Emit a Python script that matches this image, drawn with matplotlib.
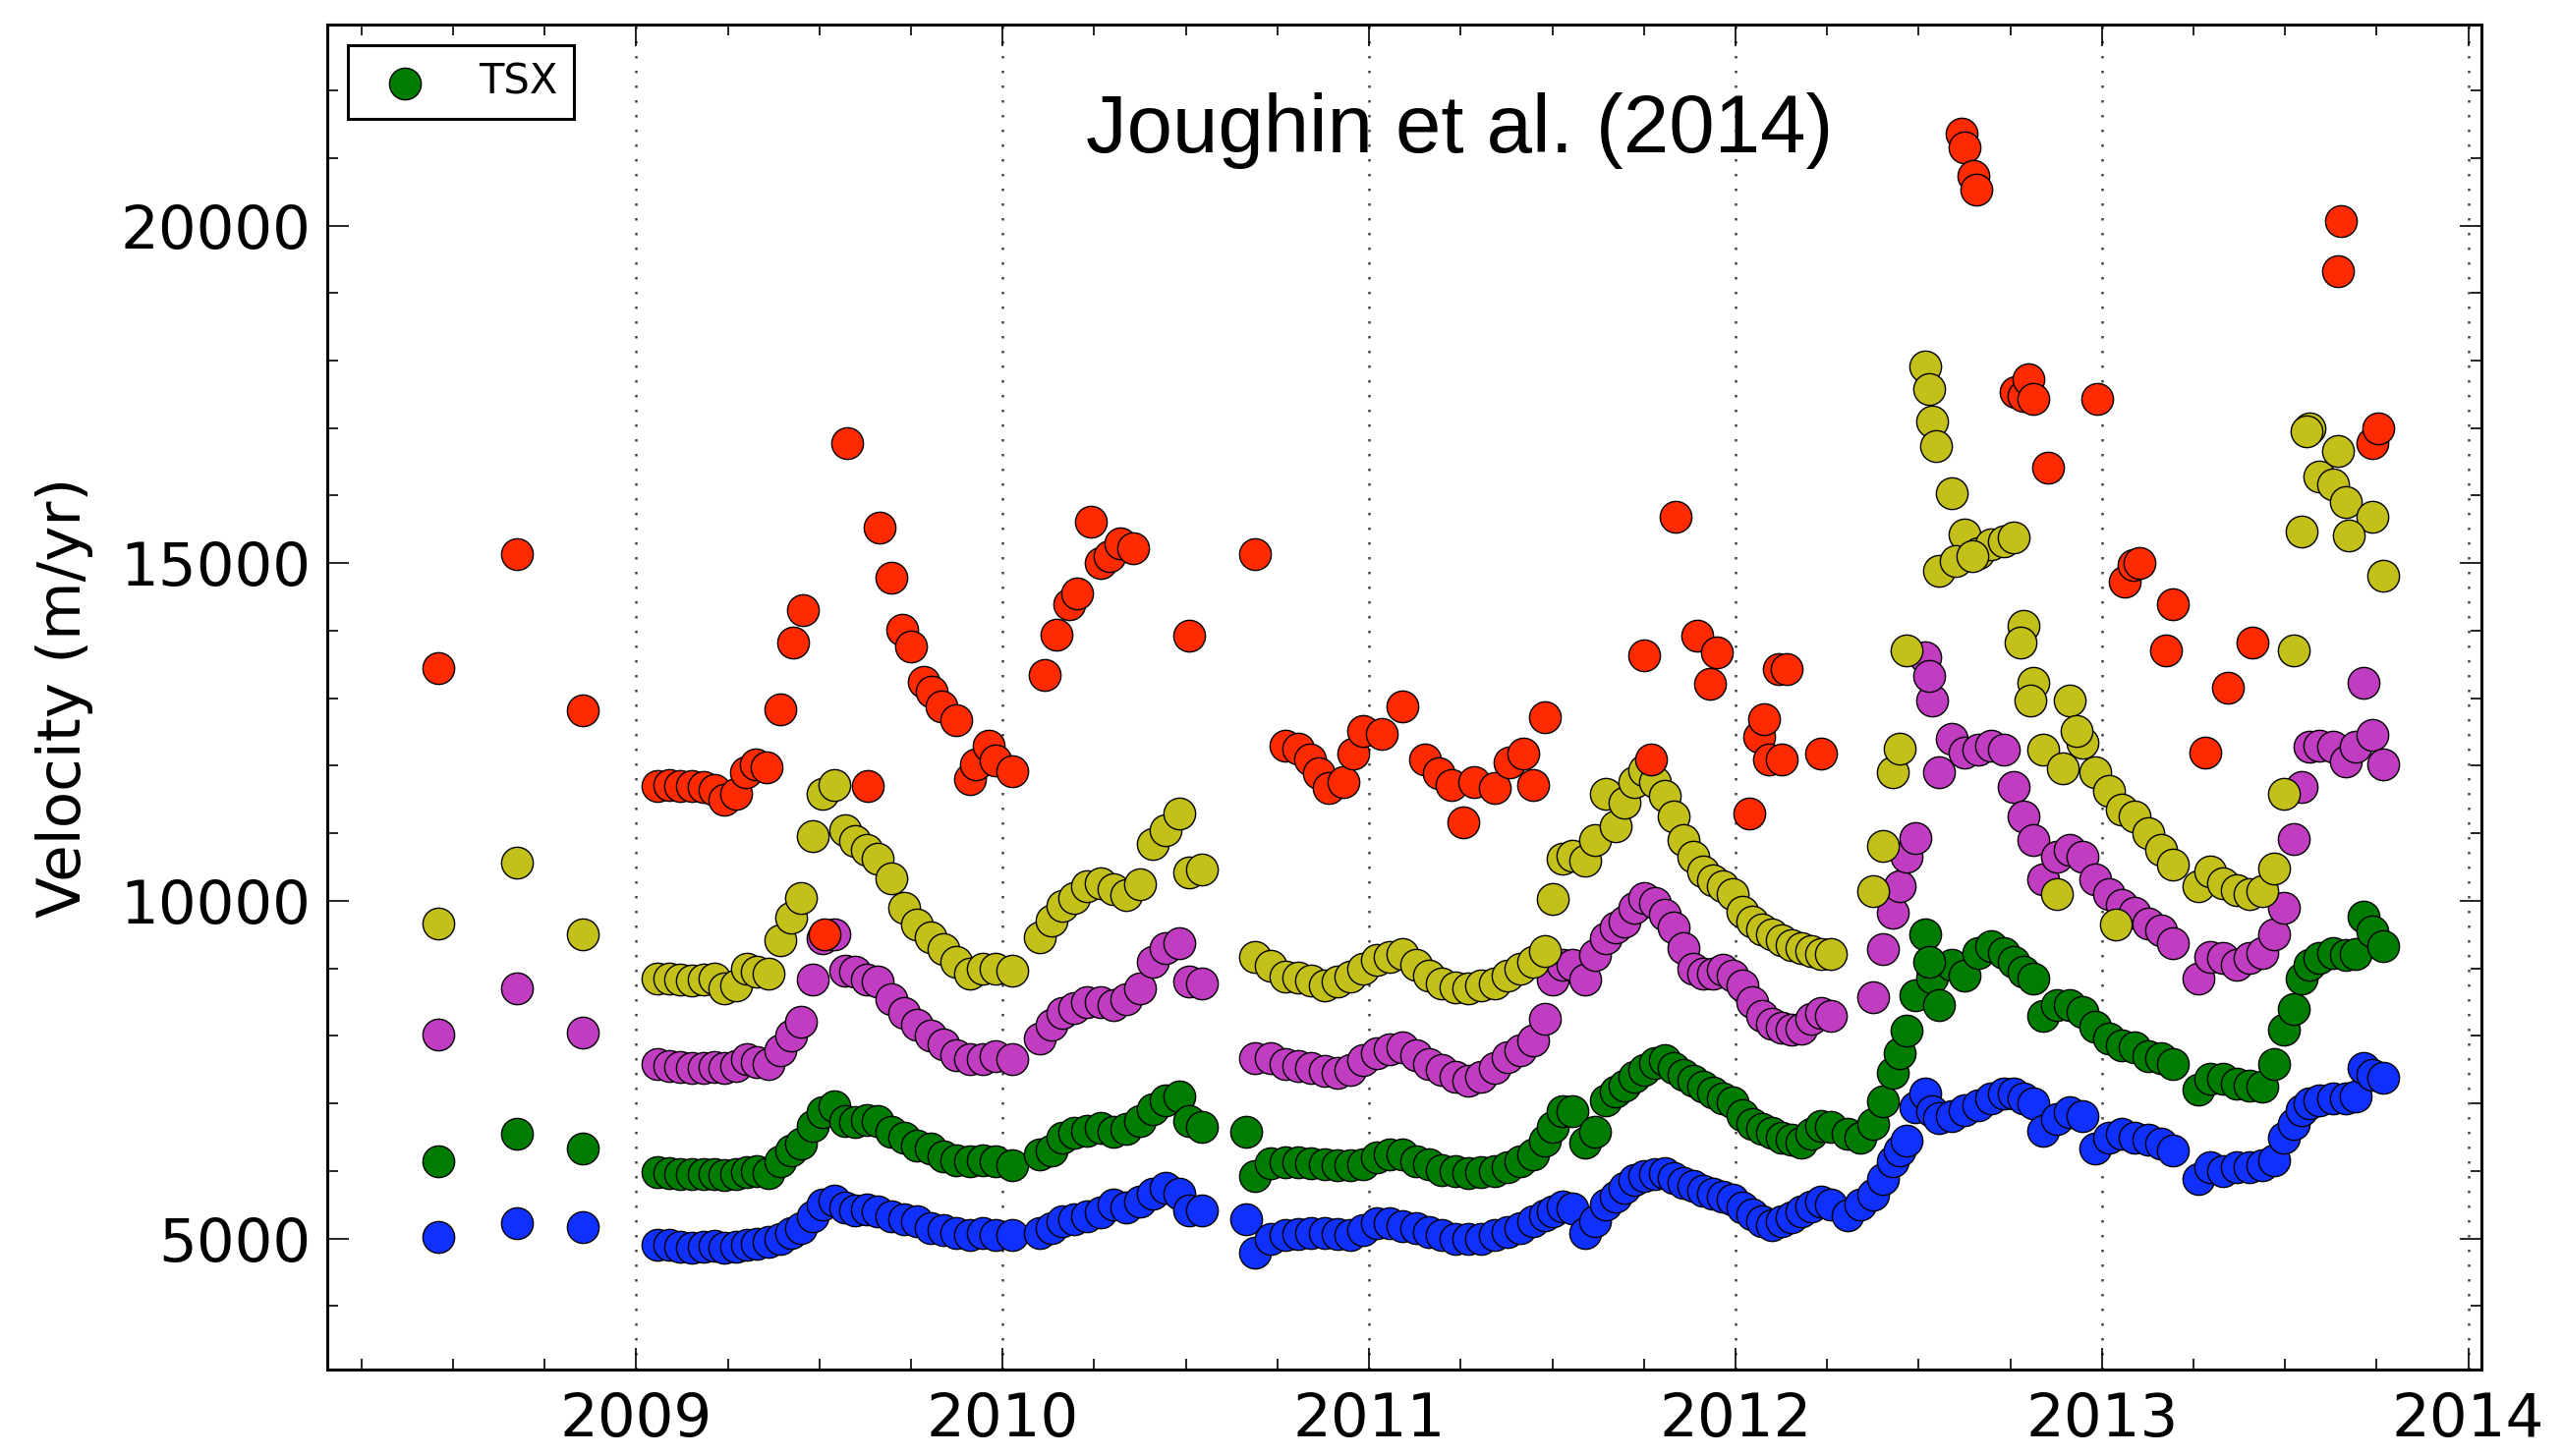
import numpy as np
import matplotlib
matplotlib.use("Agg")
import matplotlib.pyplot as plt
from matplotlib.ticker import MultipleLocator

nan = np.nan

# ----------------------------------------------------------
# TSX acquisition dates (decimal year) for the four lower gates
# ----------------------------------------------------------
t = [2008.460, 2008.674, 2008.853,
     # 2009 - early 2010
     2009.058, 2009.089, 2009.120, 2009.152, 2009.183, 2009.214, 2009.241, 2009.272, 2009.303, 2009.330,
     2009.361, 2009.393, 2009.424, 2009.450, 2009.482, 2009.508, 2009.540, 2009.571, 2009.598, 2009.629,
     2009.660, 2009.696, 2009.731, 2009.767, 2009.803, 2009.839, 2009.874, 2009.910, 2009.946, 2009.981,
     2010.026,
     # 2010
     2010.102, 2010.133, 2010.164, 2010.195, 2010.231, 2010.267, 2010.302, 2010.338, 2010.374, 2010.409,
     2010.445, 2010.481, 2010.508, 2010.543,
     # late 2010 - 2012
     2010.664, 2010.690, 2010.731, 2010.771, 2010.806, 2010.842, 2010.878, 2010.913, 2010.949, 2010.985,
     2011.020, 2011.056, 2011.092, 2011.128, 2011.163, 2011.199, 2011.235, 2011.270, 2011.306, 2011.342,
     2011.377, 2011.413, 2011.449, 2011.480, 2011.502, 2011.529, 2011.556, 2011.591, 2011.618, 2011.645,
     2011.672, 2011.698, 2011.725, 2011.752, 2011.779, 2011.806, 2011.832, 2011.859, 2011.886, 2011.913,
     2011.939, 2011.966, 2011.993, 2012.020, 2012.046, 2012.073, 2012.100, 2012.127, 2012.153, 2012.180,
     2012.207, 2012.234, 2012.260,
     # 2012 - 2013
     2012.305, 2012.341, 2012.376, 2012.403, 2012.430, 2012.448, 2012.466, 2012.492, 2012.519, 2012.537,
     2012.555, 2012.591, 2012.626, 2012.662, 2012.698, 2012.733, 2012.760, 2012.787, 2012.814, 2012.840,
     2012.876, 2012.912, 2012.947, 2012.983, 2013.019, 2013.054, 2013.090, 2013.126, 2013.161, 2013.193,
     2013.264, 2013.295, 2013.331, 2013.367, 2013.402, 2013.438, 2013.469, 2013.496, 2013.523, 2013.545,
     2013.567, 2013.594, 2013.630, 2013.665, 2013.692, 2013.715, 2013.737, 2013.768]

blue = [5020, 5220, 5170,
        4900, 4900, 4880, 4870, 4880, 4890, 4870, 4880, 4900, 4920,
        4950, 5000, 5080, 5150, 5330, 5500, 5560, 5460, 5420, 5430,
        5400, 5330, 5290, 5250, 5160, 5120, 5080, 5050, 5080, 5050,
        5050,
        5080, 5160, 5250, 5290, 5330, 5380, 5500, 5460, 5540, 5660,
        5750, 5660, 5420, 5420,
        5290, 4790, 5000, 5050, 5070, 5080, 5080, 5060, 5050, 5120,
        5230, 5220, 5190, 5160, 5100, 5050, 5000, 5000, 5000, 5050,
        5100, 5150, 5250, 5350, 5400, 5480, 5450, 5080, 5250, 5500,
        5620, 5750, 5870, 5920, 5950, 5970, 5900, 5830, 5780, 5710,
        5670, 5620, 5580, 5460, 5360, 5260, 5200, 5250, 5310, 5400,
        5480, 5540, 5500,
        5350, 5500, 5650, 5880, 6150, 6300, 6450, 6940, 7150, 6880,
        6780, 6820, 6900, 6980, 7080, 7150, 7150, 7080, 7000, 6600,
        6770, 6870, 6820, 6330, 6500, 6550, 6500, 6460, 6400, 6300,
        5880, 6050, 6000, 6050, 6050, 6080, 6160, 6500, 6700, 6900,
        7000, 7050, 7080, 7080, 7100, 7530, 7420, 7380]

green = [6140, 6550, 6330,
         5980, 5970, 5960, 5950, 5950, 5960, 5940, 5960, 5980, 6000,
         5970, 6150, 6300, 6400, 6670, 6870, 6960, 6740, 6720, 6760,
         6740, 6580, 6500, 6380, 6330, 6210, 6160, 6140, 6160, 6140,
         6090,
         6250, 6300, 6500, 6560, 6600, 6640, 6580, 6620, 6740, 6920,
         7050, 7100, 6740, 6660,
         6580, 5920, 6120, 6130, 6130, 6120, 6100, 6090, 6090, 6100,
         6200, 6240, 6240, 6150, 6100, 6020, 6000, 5970, 5980, 6000,
         6060, 6150, 6250, 6450, 6650, 6880, 6880, 6420, 6580, 7050,
         7170, 7270, 7400, 7500, 7600, 7640, 7520, 7420, 7330, 7250,
         7160, 7080, 7010, 6830, 6700, 6620, 6560, 6500, 6460, 6420,
         6550, 6670, 6650,
         6550, 6500, 6700, 7030, 7450, 7740, 8080, 8600, 9500, 8870,
         8460, 9050, 8900, 9230, 9330, 9230, 9100, 8950, 8850, 8300,
         8460, 8460, 8350, 8130, 7960, 7860, 7830, 7700, 7670, 7590,
         7200, 7370, 7370, 7300, 7270, 7250, 7590, 8100, 8400, 8850,
         9050, 9150, 9230, 9200, 9220, 9770, 9550, 9330]

magenta = [8020, 8700, 8050,
           7580, 7560, 7540, 7520, 7530, 7540, 7520, 7560, 7650, 7620,
           7580, 7790, 8000, 8210, 8840, 9450, 9500, 8970, 8950, 8840,
           8800, 8540, 8340, 8170, 8000, 7880, 7710, 7650, 7650, 7700,
           7650,
           7960, 8170, 8340, 8420, 8500, 8500, 8460, 8540, 8700, 9090,
           9300, 9380, 8800, 8770,
           nan, 7670, 7670, 7590, 7560, 7530, 7480, 7450, 7500, 7640,
           7750, 7800, 7830, 7710, 7590, 7500, 7400, 7340, 7400, 7520,
           7680, 7790, 7930, 8250, 8840, 9050, 9050, 8840, 9200, 9450,
           9600, 9700, 9900, 10040, 9970, 9800, 9600, 9300, 9000, 8920,
           8920, 8980, 8900, 8750, 8500, 8300, 8180, 8120, 8100, 8110,
           8250, 8340, 8300,
           nan, nan, 8580, 9280, 9830, 10210, 10650, 10930, 13610, 12960,
           11900, 12400, 12190, 12240, 12300, 12240, 11690, 11250, 10900, 10320,
           10650, 10760, 10650, 10320, 10100, 9940, 9830, 9670, 9560, 9380,
           8850, 9170, 9150, 9060, 9150, 9230, 9500, 9890, 10920, 11690,
           12290, 12300, 12290, 12070, 12290, 13230, 12460, 12020]

yellow = [9670, 10565, 9500,
          8850, 8850, 8830, 8820, 8830, 8850, 8700, 8750, 9000, 8950,
          8920, 9420, 9750, 10040, 10960, 11590, 11710, 11050, 10880, 10760,
          10620, 10330, 9900, 9650, 9460, 9290, 9090, 8920, 9000, 9000,
          8970,
          9460, 9710, 9930, 10040, 10220, 10260, 10170, 10080, 10240, 10840,
          11050, 11300, 10420, 10470,
          nan, 9170, 9040, 8880, 8860, 8820, 8750, 8800, 8880, 9000,
          9120, 9170, 9210, 9050, 8900, 8780, 8720, 8700, 8750, 8780,
          8900, 9000, 9090, 9260, 10030, 10630, 10670, 10600, 10900, 11580,
          11100, 11450, 11760, 11930, 11760, 11560, 11250, 10900, 10650, 10430,
          10300, 10220, 10100, 9840, 9700, 9580, 9500, 9420, 9350, 9300,
          9250, 9210, 9220,
          nan, nan, 10150, 10810, 11900, 12250, 13710, nan, 17920, 17100,
          14880, 16030, 15430, 15150, 15280, 15330, 15380, 14070, 13230, 12240,
          10100, 12960, 12340, 11900, 11630, 11350, 11250, 11000, 10750, 10540,
          10210, 10430, 10260, 10160, 10100, 10150, 10480, 11580, 13710, 15470,
          17000, 16280, 16170, 15900, nan, nan, 15690, 14810]

# extra acquisitions that only show in some gates
green_extra_t = [2012.528]
green_extra_v = [9100]
magenta_extra_t = [2012.528]
magenta_extra_v = [13330]
yellow_extra_t = [2012.528, 2012.546, 2012.600, 2012.646, 2012.778, 2012.805,
                  2012.894, 2012.930, 2013.037, 2013.558, 2013.643, 2013.674]
yellow_extra_v = [17580, 16730, 15030, 15100, 13830, 12960,
                  11970, 12510, 9650, 16950, 16660, 15410]

# the fastest gate (near the front) has its own, sparser record
red_t = [2008.460, 2008.674, 2008.853,
         2009.058, 2009.089, 2009.120, 2009.152, 2009.183, 2009.214, 2009.241, 2009.272, 2009.299, 2009.326,
         2009.357, 2009.393, 2009.428, 2009.455, 2009.513, 2009.575, 2009.633, 2009.665, 2009.696, 2009.727,
         2009.749, 2009.785, 2009.807, 2009.834, 2009.874, 2009.910, 2009.928, 2009.963, 2009.981, 2010.026,
         2010.115, 2010.146, 2010.182, 2010.204, 2010.240, 2010.267, 2010.293, 2010.320, 2010.356, 2010.508,
         2010.690, 2010.771, 2010.806, 2010.838, 2010.864, 2010.891, 2010.931, 2010.958, 2010.985, 2011.034,
         2011.092, 2011.154, 2011.190, 2011.226, 2011.257, 2011.288, 2011.342, 2011.382, 2011.422, 2011.449,
         2011.480, 2011.752, 2011.770, 2011.837, 2011.895, 2011.930, 2011.948, 2012.037, 2012.064, 2012.078,
         2012.091, 2012.118, 2012.127, 2012.140, 2012.234,
         2012.617, 2012.626, 2012.649, 2012.657, 2012.764, 2012.787, 2012.800, 2012.814, 2012.854, 2012.988,
         2013.063, 2013.086, 2013.103, 2013.175, 2013.193, 2013.282, 2013.344, 2013.411, 2013.643, 2013.652,
         2013.737, 2013.755]
red_v = [13450, 15140, 12820,
         11700, 11720, 11700, 11700, 11680, 11650, 11500, 11580, 11900, 12020,
         11980, 12840, 13830, 14310, 9500, 16780, 11700, 15520, 14780, 14010,
         13760, 13250, 13100, 12880, 12670, 11800, 12020, 12300, 12080, 11920,
         13350, 13940, 14390, 14550, 15620, 15010, 15110, 15300, 15220, 13930,
         15140, 12300, 12250, 12100, 11890, 11670, 11760, 12180, 12510, 12470,
         12880, 12100, 11890, 11720, 11170, 11760, 11670, 12050, 12180, 11720,
         12720, 13640, 12100, 15690, 13930, 13210, 13680, 11300, 12430, 12690,
         12100, 13430, 12100, 13430, 12180,
         21360, 21160, 20730, 20530, 17530, 17480, 17730, 17440, 16420, 17430,
         14730, 14970, 15010, 13710, 14390, 12200, 13150, 13830, 19320, 20070,
         16780, 17000]

year_ticks = [2009, 2010, 2011, 2012, 2013, 2014]
vel_ticks = [5000, 10000, 15000, 20000]

c_blue = '#1030ff'
c_green = '#007d00'
c_magenta = '#c03cc0'
c_yellow = '#c4c01a'
c_red = '#ff2a00'

# ----------------------------------------------------------
# figure
# ----------------------------------------------------------
fig = plt.figure(figsize=(26.08, 14.82), dpi=100)
ax = fig.add_axes([0.1277, 0.0594, 0.8405, 0.9237])

ms = 540
kw = dict(s=ms, edgecolors='k', linewidths=1.0, zorder=3)

ax.scatter(t, blue, c=c_blue, **kw)
ax.scatter(t, green, c=c_green, label='TSX', **kw)
ax.scatter(green_extra_t, green_extra_v, c=c_green, **kw)
ax.scatter(t, magenta, c=c_magenta, **kw)
ax.scatter(magenta_extra_t, magenta_extra_v, c=c_magenta, **kw)
ax.scatter(t, yellow, c=c_yellow, **kw)
ax.scatter(yellow_extra_t, yellow_extra_v, c=c_yellow, **kw)
ax.scatter(red_t, red_v, c=c_red, **kw)

ax.set_xlim(2008.157, 2014.036)
ax.set_ylim(3060, 22975)

ax.set_xticks(year_ticks)
ax.set_xticklabels([str(y) for y in year_ticks])
ax.set_yticks(vel_ticks)
ax.xaxis.set_minor_locator(MultipleLocator(0.25))
ax.yaxis.set_minor_locator(MultipleLocator(1000))

ax.tick_params(which='both', direction='in', top=True, right=True, width=1.2)
ax.tick_params(which='major', length=16, labelsize=44)
ax.tick_params(axis='x', which='major', pad=16)
ax.tick_params(axis='y', which='major', pad=12)
ax.tick_params(which='minor', length=8)

# sparse dotted year lines, like the old classic style
ax.xaxis.grid(True, linestyle=(0, (1, 5)), color='#444444', linewidth=1.8, zorder=1)
ax.set_axisbelow(True)

for sp in ax.spines.values():
    sp.set_linewidth(2.2)

ax.set_ylabel('Velocity (m/yr)', fontsize=44, labelpad=20)

ax.text(0.5255, 0.921, 'Joughin et al. (2014)', transform=ax.transAxes,
        ha='center', va='center', fontsize=60, family='Liberation Sans')

leg = ax.legend(loc='upper left', scatterpoints=1, fontsize=30, fancybox=False,
                framealpha=1, edgecolor='k', borderaxespad=0.5)
leg.get_frame().set_linewidth(2.2)

fig.savefig('out.png', dpi=100)
